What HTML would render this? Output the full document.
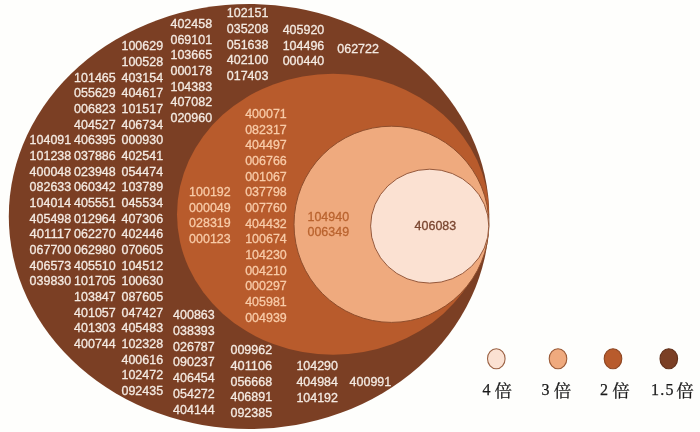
<!DOCTYPE html>
<html><head><meta charset="utf-8">
<style>
html,body{margin:0;padding:0;background:#FEFEFC;}
body{width:700px;height:432px;overflow:hidden;}
svg{display:block;}
text{font-family:"Liberation Sans",sans-serif;font-size:12.3px;}
text.lg{font-family:"Liberation Serif","Noto Serif CJK SC",serif;font-size:16px;fill:#1a1a1a;stroke:#1a1a1a;stroke-width:0.25px;}
text.cj{font-size:17.6px;}
</style></head>
<body>
<svg width="700" height="432" viewBox="0 0 700 432">
<rect width="700" height="432" fill="#FEFEFC"/>
<ellipse cx="249.05" cy="216.5" rx="240.25" ry="212.5" fill="#7B3F24"/>
<ellipse cx="333.05" cy="214.25" rx="156.05" ry="140.55" fill="#B85B2C"/>
<ellipse cx="391.45" cy="224.3" rx="97.45" ry="98.1" fill="#EFAA7E" stroke="#8F4E2C" stroke-width="1"/>
<ellipse cx="429.7" cy="226.15" rx="59.1" ry="56.95" fill="#FBE1D2" stroke="#96583A" stroke-width="1"/>
<g style="will-change:transform">
<text x="29.6" y="144.28" fill="#F4EAE2" stroke="#F4EAE2" stroke-width="0.3" textLength="41.6" lengthAdjust="spacingAndGlyphs">104091</text>
<text x="29.6" y="159.96" fill="#F4EAE2" stroke="#F4EAE2" stroke-width="0.3" textLength="41.6" lengthAdjust="spacingAndGlyphs">101238</text>
<text x="29.6" y="175.64" fill="#F4EAE2" stroke="#F4EAE2" stroke-width="0.3" textLength="41.6" lengthAdjust="spacingAndGlyphs">400048</text>
<text x="29.6" y="191.32" fill="#F4EAE2" stroke="#F4EAE2" stroke-width="0.3" textLength="41.6" lengthAdjust="spacingAndGlyphs">082633</text>
<text x="29.6" y="207.00" fill="#F4EAE2" stroke="#F4EAE2" stroke-width="0.3" textLength="41.6" lengthAdjust="spacingAndGlyphs">104014</text>
<text x="29.6" y="222.68" fill="#F4EAE2" stroke="#F4EAE2" stroke-width="0.3" textLength="41.6" lengthAdjust="spacingAndGlyphs">405498</text>
<text x="29.6" y="238.36" fill="#F4EAE2" stroke="#F4EAE2" stroke-width="0.3" textLength="41.6" lengthAdjust="spacingAndGlyphs">401117</text>
<text x="29.6" y="254.04" fill="#F4EAE2" stroke="#F4EAE2" stroke-width="0.3" textLength="41.6" lengthAdjust="spacingAndGlyphs">067700</text>
<text x="29.6" y="269.72" fill="#F4EAE2" stroke="#F4EAE2" stroke-width="0.3" textLength="41.6" lengthAdjust="spacingAndGlyphs">406573</text>
<text x="29.6" y="285.40" fill="#F4EAE2" stroke="#F4EAE2" stroke-width="0.3" textLength="41.6" lengthAdjust="spacingAndGlyphs">039830</text>
<text x="74.1" y="81.56" fill="#F4EAE2" stroke="#F4EAE2" stroke-width="0.3" textLength="41.6" lengthAdjust="spacingAndGlyphs">101465</text>
<text x="74.1" y="97.24" fill="#F4EAE2" stroke="#F4EAE2" stroke-width="0.3" textLength="41.6" lengthAdjust="spacingAndGlyphs">055629</text>
<text x="74.1" y="112.92" fill="#F4EAE2" stroke="#F4EAE2" stroke-width="0.3" textLength="41.6" lengthAdjust="spacingAndGlyphs">006823</text>
<text x="74.1" y="128.60" fill="#F4EAE2" stroke="#F4EAE2" stroke-width="0.3" textLength="41.6" lengthAdjust="spacingAndGlyphs">404527</text>
<text x="74.1" y="144.28" fill="#F4EAE2" stroke="#F4EAE2" stroke-width="0.3" textLength="41.6" lengthAdjust="spacingAndGlyphs">406395</text>
<text x="74.1" y="159.96" fill="#F4EAE2" stroke="#F4EAE2" stroke-width="0.3" textLength="41.6" lengthAdjust="spacingAndGlyphs">037886</text>
<text x="74.1" y="175.64" fill="#F4EAE2" stroke="#F4EAE2" stroke-width="0.3" textLength="41.6" lengthAdjust="spacingAndGlyphs">023948</text>
<text x="74.1" y="191.32" fill="#F4EAE2" stroke="#F4EAE2" stroke-width="0.3" textLength="41.6" lengthAdjust="spacingAndGlyphs">060342</text>
<text x="74.1" y="207.00" fill="#F4EAE2" stroke="#F4EAE2" stroke-width="0.3" textLength="41.6" lengthAdjust="spacingAndGlyphs">405551</text>
<text x="74.1" y="222.68" fill="#F4EAE2" stroke="#F4EAE2" stroke-width="0.3" textLength="41.6" lengthAdjust="spacingAndGlyphs">012964</text>
<text x="74.1" y="238.36" fill="#F4EAE2" stroke="#F4EAE2" stroke-width="0.3" textLength="41.6" lengthAdjust="spacingAndGlyphs">062270</text>
<text x="74.1" y="254.04" fill="#F4EAE2" stroke="#F4EAE2" stroke-width="0.3" textLength="41.6" lengthAdjust="spacingAndGlyphs">062980</text>
<text x="74.1" y="269.72" fill="#F4EAE2" stroke="#F4EAE2" stroke-width="0.3" textLength="41.6" lengthAdjust="spacingAndGlyphs">405510</text>
<text x="74.1" y="285.40" fill="#F4EAE2" stroke="#F4EAE2" stroke-width="0.3" textLength="41.6" lengthAdjust="spacingAndGlyphs">101705</text>
<text x="74.1" y="301.08" fill="#F4EAE2" stroke="#F4EAE2" stroke-width="0.3" textLength="41.6" lengthAdjust="spacingAndGlyphs">103847</text>
<text x="74.1" y="316.76" fill="#F4EAE2" stroke="#F4EAE2" stroke-width="0.3" textLength="41.6" lengthAdjust="spacingAndGlyphs">401057</text>
<text x="74.1" y="332.44" fill="#F4EAE2" stroke="#F4EAE2" stroke-width="0.3" textLength="41.6" lengthAdjust="spacingAndGlyphs">401303</text>
<text x="74.1" y="348.12" fill="#F4EAE2" stroke="#F4EAE2" stroke-width="0.3" textLength="41.6" lengthAdjust="spacingAndGlyphs">400744</text>
<text x="121.5" y="50.20" fill="#F4EAE2" stroke="#F4EAE2" stroke-width="0.3" textLength="41.6" lengthAdjust="spacingAndGlyphs">100629</text>
<text x="121.5" y="65.88" fill="#F4EAE2" stroke="#F4EAE2" stroke-width="0.3" textLength="41.6" lengthAdjust="spacingAndGlyphs">100528</text>
<text x="121.5" y="81.56" fill="#F4EAE2" stroke="#F4EAE2" stroke-width="0.3" textLength="41.6" lengthAdjust="spacingAndGlyphs">403154</text>
<text x="121.5" y="97.24" fill="#F4EAE2" stroke="#F4EAE2" stroke-width="0.3" textLength="41.6" lengthAdjust="spacingAndGlyphs">404617</text>
<text x="121.5" y="112.92" fill="#F4EAE2" stroke="#F4EAE2" stroke-width="0.3" textLength="41.6" lengthAdjust="spacingAndGlyphs">101517</text>
<text x="121.5" y="128.60" fill="#F4EAE2" stroke="#F4EAE2" stroke-width="0.3" textLength="41.6" lengthAdjust="spacingAndGlyphs">406734</text>
<text x="121.5" y="144.28" fill="#F4EAE2" stroke="#F4EAE2" stroke-width="0.3" textLength="41.6" lengthAdjust="spacingAndGlyphs">000930</text>
<text x="121.5" y="159.96" fill="#F4EAE2" stroke="#F4EAE2" stroke-width="0.3" textLength="41.6" lengthAdjust="spacingAndGlyphs">402541</text>
<text x="121.5" y="175.64" fill="#F4EAE2" stroke="#F4EAE2" stroke-width="0.3" textLength="41.6" lengthAdjust="spacingAndGlyphs">054474</text>
<text x="121.5" y="191.32" fill="#F4EAE2" stroke="#F4EAE2" stroke-width="0.3" textLength="41.6" lengthAdjust="spacingAndGlyphs">103789</text>
<text x="121.5" y="207.00" fill="#F4EAE2" stroke="#F4EAE2" stroke-width="0.3" textLength="41.6" lengthAdjust="spacingAndGlyphs">045534</text>
<text x="121.5" y="222.68" fill="#F4EAE2" stroke="#F4EAE2" stroke-width="0.3" textLength="41.6" lengthAdjust="spacingAndGlyphs">407306</text>
<text x="121.5" y="238.36" fill="#F4EAE2" stroke="#F4EAE2" stroke-width="0.3" textLength="41.6" lengthAdjust="spacingAndGlyphs">402446</text>
<text x="121.5" y="254.04" fill="#F4EAE2" stroke="#F4EAE2" stroke-width="0.3" textLength="41.6" lengthAdjust="spacingAndGlyphs">070605</text>
<text x="121.5" y="269.72" fill="#F4EAE2" stroke="#F4EAE2" stroke-width="0.3" textLength="41.6" lengthAdjust="spacingAndGlyphs">104512</text>
<text x="121.5" y="285.40" fill="#F4EAE2" stroke="#F4EAE2" stroke-width="0.3" textLength="41.6" lengthAdjust="spacingAndGlyphs">100630</text>
<text x="121.5" y="301.08" fill="#F4EAE2" stroke="#F4EAE2" stroke-width="0.3" textLength="41.6" lengthAdjust="spacingAndGlyphs">087605</text>
<text x="121.5" y="316.76" fill="#F4EAE2" stroke="#F4EAE2" stroke-width="0.3" textLength="41.6" lengthAdjust="spacingAndGlyphs">047427</text>
<text x="121.5" y="332.44" fill="#F4EAE2" stroke="#F4EAE2" stroke-width="0.3" textLength="41.6" lengthAdjust="spacingAndGlyphs">405483</text>
<text x="121.5" y="348.12" fill="#F4EAE2" stroke="#F4EAE2" stroke-width="0.3" textLength="41.6" lengthAdjust="spacingAndGlyphs">102328</text>
<text x="121.5" y="363.80" fill="#F4EAE2" stroke="#F4EAE2" stroke-width="0.3" textLength="41.6" lengthAdjust="spacingAndGlyphs">400616</text>
<text x="121.5" y="379.48" fill="#F4EAE2" stroke="#F4EAE2" stroke-width="0.3" textLength="41.6" lengthAdjust="spacingAndGlyphs">102472</text>
<text x="121.5" y="395.16" fill="#F4EAE2" stroke="#F4EAE2" stroke-width="0.3" textLength="41.6" lengthAdjust="spacingAndGlyphs">092435</text>
<text x="170.5" y="28.05" fill="#F4EAE2" stroke="#F4EAE2" stroke-width="0.3" textLength="41.6" lengthAdjust="spacingAndGlyphs">402458</text>
<text x="170.5" y="43.73" fill="#F4EAE2" stroke="#F4EAE2" stroke-width="0.3" textLength="41.6" lengthAdjust="spacingAndGlyphs">069101</text>
<text x="170.5" y="59.41" fill="#F4EAE2" stroke="#F4EAE2" stroke-width="0.3" textLength="41.6" lengthAdjust="spacingAndGlyphs">103665</text>
<text x="170.5" y="75.09" fill="#F4EAE2" stroke="#F4EAE2" stroke-width="0.3" textLength="41.6" lengthAdjust="spacingAndGlyphs">000178</text>
<text x="170.5" y="90.77" fill="#F4EAE2" stroke="#F4EAE2" stroke-width="0.3" textLength="41.6" lengthAdjust="spacingAndGlyphs">104383</text>
<text x="170.5" y="106.45" fill="#F4EAE2" stroke="#F4EAE2" stroke-width="0.3" textLength="41.6" lengthAdjust="spacingAndGlyphs">407082</text>
<text x="170.5" y="122.13" fill="#F4EAE2" stroke="#F4EAE2" stroke-width="0.3" textLength="41.6" lengthAdjust="spacingAndGlyphs">020960</text>
<text x="226.8" y="17.15" fill="#F4EAE2" stroke="#F4EAE2" stroke-width="0.3" textLength="41.6" lengthAdjust="spacingAndGlyphs">102151</text>
<text x="226.8" y="32.83" fill="#F4EAE2" stroke="#F4EAE2" stroke-width="0.3" textLength="41.6" lengthAdjust="spacingAndGlyphs">035208</text>
<text x="226.8" y="48.51" fill="#F4EAE2" stroke="#F4EAE2" stroke-width="0.3" textLength="41.6" lengthAdjust="spacingAndGlyphs">051638</text>
<text x="226.8" y="64.19" fill="#F4EAE2" stroke="#F4EAE2" stroke-width="0.3" textLength="41.6" lengthAdjust="spacingAndGlyphs">402100</text>
<text x="226.8" y="79.87" fill="#F4EAE2" stroke="#F4EAE2" stroke-width="0.3" textLength="41.6" lengthAdjust="spacingAndGlyphs">017403</text>
<text x="282.7" y="33.85" fill="#F4EAE2" stroke="#F4EAE2" stroke-width="0.3" textLength="41.6" lengthAdjust="spacingAndGlyphs">405920</text>
<text x="282.7" y="49.53" fill="#F4EAE2" stroke="#F4EAE2" stroke-width="0.3" textLength="41.6" lengthAdjust="spacingAndGlyphs">104496</text>
<text x="282.7" y="65.21" fill="#F4EAE2" stroke="#F4EAE2" stroke-width="0.3" textLength="41.6" lengthAdjust="spacingAndGlyphs">000440</text>
<text x="337.3" y="52.55" fill="#F4EAE2" stroke="#F4EAE2" stroke-width="0.3" textLength="41.6" lengthAdjust="spacingAndGlyphs">062722</text>
<text x="173.1" y="319.45" fill="#F4EAE2" stroke="#F4EAE2" stroke-width="0.3" textLength="41.6" lengthAdjust="spacingAndGlyphs">400863</text>
<text x="173.1" y="335.13" fill="#F4EAE2" stroke="#F4EAE2" stroke-width="0.3" textLength="41.6" lengthAdjust="spacingAndGlyphs">038393</text>
<text x="173.1" y="350.81" fill="#F4EAE2" stroke="#F4EAE2" stroke-width="0.3" textLength="41.6" lengthAdjust="spacingAndGlyphs">026787</text>
<text x="173.1" y="366.49" fill="#F4EAE2" stroke="#F4EAE2" stroke-width="0.3" textLength="41.6" lengthAdjust="spacingAndGlyphs">090237</text>
<text x="173.1" y="382.17" fill="#F4EAE2" stroke="#F4EAE2" stroke-width="0.3" textLength="41.6" lengthAdjust="spacingAndGlyphs">406454</text>
<text x="173.1" y="397.85" fill="#F4EAE2" stroke="#F4EAE2" stroke-width="0.3" textLength="41.6" lengthAdjust="spacingAndGlyphs">054272</text>
<text x="173.1" y="413.53" fill="#F4EAE2" stroke="#F4EAE2" stroke-width="0.3" textLength="41.6" lengthAdjust="spacingAndGlyphs">404144</text>
<text x="230.5" y="354.45" fill="#F4EAE2" stroke="#F4EAE2" stroke-width="0.3" textLength="41.6" lengthAdjust="spacingAndGlyphs">009962</text>
<text x="230.5" y="370.13" fill="#F4EAE2" stroke="#F4EAE2" stroke-width="0.3" textLength="41.6" lengthAdjust="spacingAndGlyphs">401106</text>
<text x="230.5" y="385.81" fill="#F4EAE2" stroke="#F4EAE2" stroke-width="0.3" textLength="41.6" lengthAdjust="spacingAndGlyphs">056668</text>
<text x="230.5" y="401.49" fill="#F4EAE2" stroke="#F4EAE2" stroke-width="0.3" textLength="41.6" lengthAdjust="spacingAndGlyphs">406891</text>
<text x="230.5" y="417.17" fill="#F4EAE2" stroke="#F4EAE2" stroke-width="0.3" textLength="41.6" lengthAdjust="spacingAndGlyphs">092385</text>
<text x="296.4" y="370.25" fill="#F4EAE2" stroke="#F4EAE2" stroke-width="0.3" textLength="41.6" lengthAdjust="spacingAndGlyphs">104290</text>
<text x="296.4" y="385.93" fill="#F4EAE2" stroke="#F4EAE2" stroke-width="0.3" textLength="41.6" lengthAdjust="spacingAndGlyphs">404984</text>
<text x="296.4" y="401.61" fill="#F4EAE2" stroke="#F4EAE2" stroke-width="0.3" textLength="41.6" lengthAdjust="spacingAndGlyphs">104192</text>
<text x="349.6" y="386.25" fill="#F4EAE2" stroke="#F4EAE2" stroke-width="0.3" textLength="41.6" lengthAdjust="spacingAndGlyphs">400991</text>
<text x="245.2" y="117.85" fill="#F8CBA8" stroke="#F8CBA8" stroke-width="0.3" textLength="41.6" lengthAdjust="spacingAndGlyphs">400071</text>
<text x="245.2" y="133.53" fill="#F8CBA8" stroke="#F8CBA8" stroke-width="0.3" textLength="41.6" lengthAdjust="spacingAndGlyphs">082317</text>
<text x="245.2" y="149.21" fill="#F8CBA8" stroke="#F8CBA8" stroke-width="0.3" textLength="41.6" lengthAdjust="spacingAndGlyphs">404497</text>
<text x="245.2" y="164.89" fill="#F8CBA8" stroke="#F8CBA8" stroke-width="0.3" textLength="41.6" lengthAdjust="spacingAndGlyphs">006766</text>
<text x="245.2" y="180.57" fill="#F8CBA8" stroke="#F8CBA8" stroke-width="0.3" textLength="41.6" lengthAdjust="spacingAndGlyphs">001067</text>
<text x="245.2" y="196.25" fill="#F8CBA8" stroke="#F8CBA8" stroke-width="0.3" textLength="41.6" lengthAdjust="spacingAndGlyphs">037798</text>
<text x="245.2" y="211.93" fill="#F8CBA8" stroke="#F8CBA8" stroke-width="0.3" textLength="41.6" lengthAdjust="spacingAndGlyphs">007760</text>
<text x="245.2" y="227.61" fill="#F8CBA8" stroke="#F8CBA8" stroke-width="0.3" textLength="41.6" lengthAdjust="spacingAndGlyphs">404432</text>
<text x="245.2" y="243.29" fill="#F8CBA8" stroke="#F8CBA8" stroke-width="0.3" textLength="41.6" lengthAdjust="spacingAndGlyphs">100674</text>
<text x="245.2" y="258.97" fill="#F8CBA8" stroke="#F8CBA8" stroke-width="0.3" textLength="41.6" lengthAdjust="spacingAndGlyphs">104230</text>
<text x="245.2" y="274.65" fill="#F8CBA8" stroke="#F8CBA8" stroke-width="0.3" textLength="41.6" lengthAdjust="spacingAndGlyphs">004210</text>
<text x="245.2" y="290.33" fill="#F8CBA8" stroke="#F8CBA8" stroke-width="0.3" textLength="41.6" lengthAdjust="spacingAndGlyphs">000297</text>
<text x="245.2" y="306.01" fill="#F8CBA8" stroke="#F8CBA8" stroke-width="0.3" textLength="41.6" lengthAdjust="spacingAndGlyphs">405981</text>
<text x="245.2" y="321.69" fill="#F8CBA8" stroke="#F8CBA8" stroke-width="0.3" textLength="41.6" lengthAdjust="spacingAndGlyphs">004939</text>
<text x="189.1" y="195.95" fill="#F8CBA8" stroke="#F8CBA8" stroke-width="0.3" textLength="41.6" lengthAdjust="spacingAndGlyphs">100192</text>
<text x="189.1" y="211.63" fill="#F8CBA8" stroke="#F8CBA8" stroke-width="0.3" textLength="41.6" lengthAdjust="spacingAndGlyphs">000049</text>
<text x="189.1" y="227.31" fill="#F8CBA8" stroke="#F8CBA8" stroke-width="0.3" textLength="41.6" lengthAdjust="spacingAndGlyphs">028319</text>
<text x="189.1" y="242.99" fill="#F8CBA8" stroke="#F8CBA8" stroke-width="0.3" textLength="41.6" lengthAdjust="spacingAndGlyphs">000123</text>
<text x="307.5" y="220.55" fill="#B9632F" stroke="#B9632F" stroke-width="0.3" textLength="41.6" lengthAdjust="spacingAndGlyphs">104940</text>
<text x="307.5" y="236.23" fill="#B9632F" stroke="#B9632F" stroke-width="0.3" textLength="41.6" lengthAdjust="spacingAndGlyphs">006349</text>
<text x="414.6" y="229.55" fill="#7A4630" stroke="#7A4630" stroke-width="0.3" textLength="41.6" lengthAdjust="spacingAndGlyphs">406083</text>
</g>
<g style="will-change:transform">
<ellipse cx="496.3" cy="358.7" rx="8.8" ry="10.0" fill="#FBE1D2" stroke="#9B6244" stroke-width="1.1"/>
<text class="lg" x="482.5" y="395.3">4</text>
<text class="lg cj" x="494.6" y="396.7">倍</text>
<ellipse cx="558.0" cy="358.7" rx="8.8" ry="10.0" fill="#EFAA7E" stroke="#9B5A36" stroke-width="1.1"/>
<text class="lg" x="541.6" y="395.3">3</text>
<text class="lg cj" x="553.8" y="396.7">倍</text>
<ellipse cx="613.0" cy="358.7" rx="8.8" ry="10.0" fill="#B85B2C" stroke="#8E4622" stroke-width="1.1"/>
<text class="lg" x="600.0" y="395.3">2</text>
<text class="lg cj" x="612.3" y="396.7">倍</text>
<ellipse cx="668.8" cy="358.7" rx="8.8" ry="10.0" fill="#7B3F24" stroke="#62301A" stroke-width="1.1"/>
<text class="lg" x="651.0" y="395.3" letter-spacing="1.2">1.5</text>
<text class="lg cj" x="676.3" y="396.7">倍</text>
</g>
</svg>
</body></html>
